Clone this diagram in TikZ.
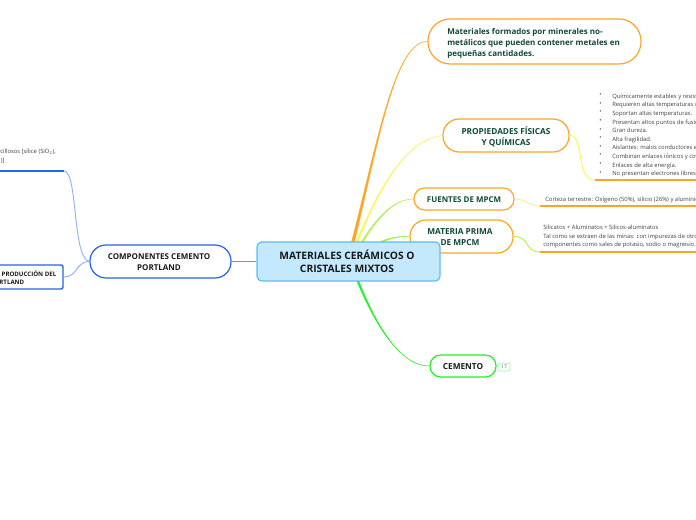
\documentclass[tikz,border=0pt]{standalone}
\usepackage{fontspec}
\setmainfont{Open Sans}
\definecolor{orangeb}{HTML}{FFA526}
\definecolor{yel}{HTML}{FFF44F}
\definecolor{lime}{HTML}{B4F050}
\definecolor{limeb}{HTML}{94F040}
\definecolor{grn}{HTML}{22F022}
\definecolor{blueb}{HTML}{2563EB}
\definecolor{lblue}{HTML}{8FB0FA}
\definecolor{skyb}{HTML}{5CBDF0}
\definecolor{skyf}{HTML}{C4E9FD}
\definecolor{dgreen}{HTML}{0F4A38}
\tikzset{
 x=0.75pt,y=-0.75pt,
 base/.style={rounded corners=12pt,fill=white,line width=0.9pt,align=center,inner sep=0pt},
 topic/.style={base,draw=orangeb},
 conn/.style={line width=0.7pt},
 taper/.style={line width=0.3pt},
 under/.style={line width=1.1pt,draw=orangeb},
 head/.style={font=\bfseries\fontsize{6.0}{8.2}\selectfont,align=center,inner sep=0pt},
 small/.style={font=\fontsize{4.4}{6.45}\selectfont,text=black!75,align=left,inner sep=0pt,anchor=north west}
}
\begin{document}
\begin{tikzpicture}
\useasboundingbox (0,0) rectangle (696,520);
\clip (0,0) rectangle (696,520);
% free ends
\coordinate (c1a) at (351,244);
\coordinate (c1b) at (354,244);
\coordinate (c2a) at (355,244);
\coordinate (c2b) at (357,244);
\coordinate (c3a) at (360,244);
\coordinate (c3b) at (362,244);
\coordinate (c4a) at (364,250);
\coordinate (c4b) at (365,252);
\coordinate (c5a) at (356,279);
\coordinate (c5b) at (358,279);
\coordinate (pl1) at (595,180);
\coordinate (pr1) at (696,180);
\coordinate (fl1) at (540,206);
\coordinate (fr1) at (696,206);
\coordinate (ml1) at (540,252);
\coordinate (mr1) at (696,252);
\coordinate (ll1) at (64,171);
\coordinate (lr1) at (0,171);
% boxes
\node[topic,minimum width=159.75pt,minimum height=33.75pt,rounded corners=16.5pt] (mat) at (534.5,41.5) {};
\node[topic,minimum width=94.5pt,minimum height=24.75pt] (prop) at (506,135.5) {};
\node[topic,minimum width=75pt,minimum height=16.5pt,rounded corners=8pt] (fue) at (464,199) {};
\node[topic,minimum width=77.25pt,minimum height=24.75pt] (pri) at (461.5,236.5) {};
\node[base,draw=grn,minimum width=49.5pt,minimum height=16.5pt,rounded corners=8pt] (cem) at (463,366) {};
\node[base,draw=blueb,minimum width=105.75pt,minimum height=24.75pt] (comp) at (160.5,261.5) {};
\node[draw=blueb,fill=white,line width=1.1pt,rounded corners=1.5pt,minimum width=62.25pt,minimum height=18pt,inner sep=0pt] (prod) at (21.5,277) {};
% connectors
\filldraw[taper,draw=orangeb,fill=orangeb] (c1a) .. controls (378,140) and (395,41) .. (mat.west) .. controls (395,41.5) and (379,140) .. (c1b) -- cycle;
\filldraw[taper,draw=yel,fill=yel] (c2a) .. controls (372,205) and (400,140) .. (prop.west) .. controls (400,140.5) and (373,205) .. (c2b) -- cycle;
\filldraw[taper,draw=lime,fill=lime] (c3a) .. controls (375,220) and (392,199) .. (fue.west) .. controls (392,199.5) and (376,220.5) .. (c3b) -- cycle;
\filldraw[taper,draw=limeb,fill=limeb] (c4a) .. controls (385,238) and (395,236) .. (pri.west) .. controls (395,236.5) and (385,239) .. (c4b) -- cycle;
\filldraw[taper,draw=grn,fill=grn] (c5a) .. controls (375,325) and (400,366) .. (cem.west) .. controls (400,366.5) and (376,325) .. (c5b) -- cycle;
\draw[conn,draw=yel] (prop.east) .. controls (585,135) and (575,180) .. (pl1);
\draw[conn,draw=lime!50!yellow!60] (fue.east) .. controls (527,199) and (528,206) .. (fl1);
\draw[conn,draw=lime] (pri.east) .. controls (530,236) and (524,252) .. (ml1);
\draw[under] (pl1) -- (pr1);
\draw[under] (fl1) -- (fr1);
\draw[under] (ml1) -- (mr1);
\draw[under,draw=blueb] (ll1) -- (lr1);
\draw[conn,draw=lblue] (comp.west) .. controls (72,258) and (78,171) .. (ll1);
\draw[conn,draw=lblue] (comp.west) .. controls (75,262) and (78,277) .. (prod.east);
\node[draw=skyb,fill=skyf,line width=0.9pt,rounded corners=3.5pt,minimum width=137.25pt,minimum height=29.25pt,inner sep=0pt] (cen) at (348.5,261.5) {};
\draw[conn,draw=blueb!70] (comp.east) -- (cen.west);
% texts
\node[font=\bfseries\fontsize{7.7}{9.9}\selectfont,text=black!90,align=center,inner sep=0pt] (cent) at (347,261.5) {MATERIALES CERÁMICOS O\\CRISTALES MIXTOS};
\node[font=\bfseries\fontsize{6.0}{8.2}\selectfont,text=dgreen,align=left,inner sep=0pt,anchor=west] (matt) at (447,43) {Materiales formados por minerales no-\\metálicos que pueden contener metales en\\pequeñas cantidades.};
\node[head,font=\bfseries\fontsize{6.2}{8.2}\selectfont,text=dgreen] (propt) at (506,137) {PROPIEDADES FÍSICAS\\Y QUÍMICAS};
\node[head,font=\bfseries\fontsize{5.95}{8.2}\selectfont,text=dgreen] (fuet) at (464,200) {FUENTES DE MPCM};
\node[head,font=\bfseries\fontsize{6.2}{8.2}\selectfont,text=dgreen] (prit) at (460,237) {MATERIA PRIMA\\DE MPCM};
\node[head,font=\bfseries\fontsize{6.2}{8.2}\selectfont,text=black!90] (cemt) at (463,367) {CEMENTO};
\node[head,text=black!90] (compt) at (159,262.5) {COMPONENTES CEMENTO\\PORTLAND};
\node[font=\bfseries\fontsize{4.6}{6}\selectfont,text=black!90,align=left,inner sep=0pt,anchor=north west] (prodt) at (-41,271) {ETAPAS DE LA PRODUCCIÓN DEL\\CEMENTO PORTLAND};
\node[draw=grn!45,fill=white,line width=0.7pt,rounded corners=1pt,minimum width=9pt,minimum height=6pt,inner sep=0pt,font=\fontsize{3.8}{4}\selectfont,text=black!65] (badge) at (504,367) {17};
\node[small] (listb) at (599,93.5) {•\\•\\•\\•\\•\\•\\•\\•\\•\\•};
\node[small] (list) at (612,93.5) {Químicamente estables y resistentes.\\Requieren altas temperaturas de procesado.\\Soportan altas temperaturas.\\Presentan altos puntos de fusión.\\Gran dureza.\\Alta fragilidad.\\Aislantes: malos conductores eléctricos.\\Combinan enlaces iónicos y covalentes.\\Enlaces de alta energía.\\No presentan electrones libres.};
\node[small] (fuen) at (545,197) {Corteza terrestre: Oxígeno (50\%), silicio (26\%) y aluminio (7\%)};
\node[small] (prim) at (543,225) {Silicatos + Aluminatos + Silicos-aluminatos\\Tal como se extraen de las minas: con impurezas de otros\\componentes como sales de potasio, sodio o magnesio.};
\node[small,anchor=north east,font=\fontsize{4.4}{7}\selectfont] (arc) at (56,148.5) {Materiales arcillosos {[}sílice (SiO\textsubscript{2}),\\\hspace*{-3.75pt}alúmina (Al\textsubscript{2}O\textsubscript{3}){]}};
\end{tikzpicture}
\end{document}
